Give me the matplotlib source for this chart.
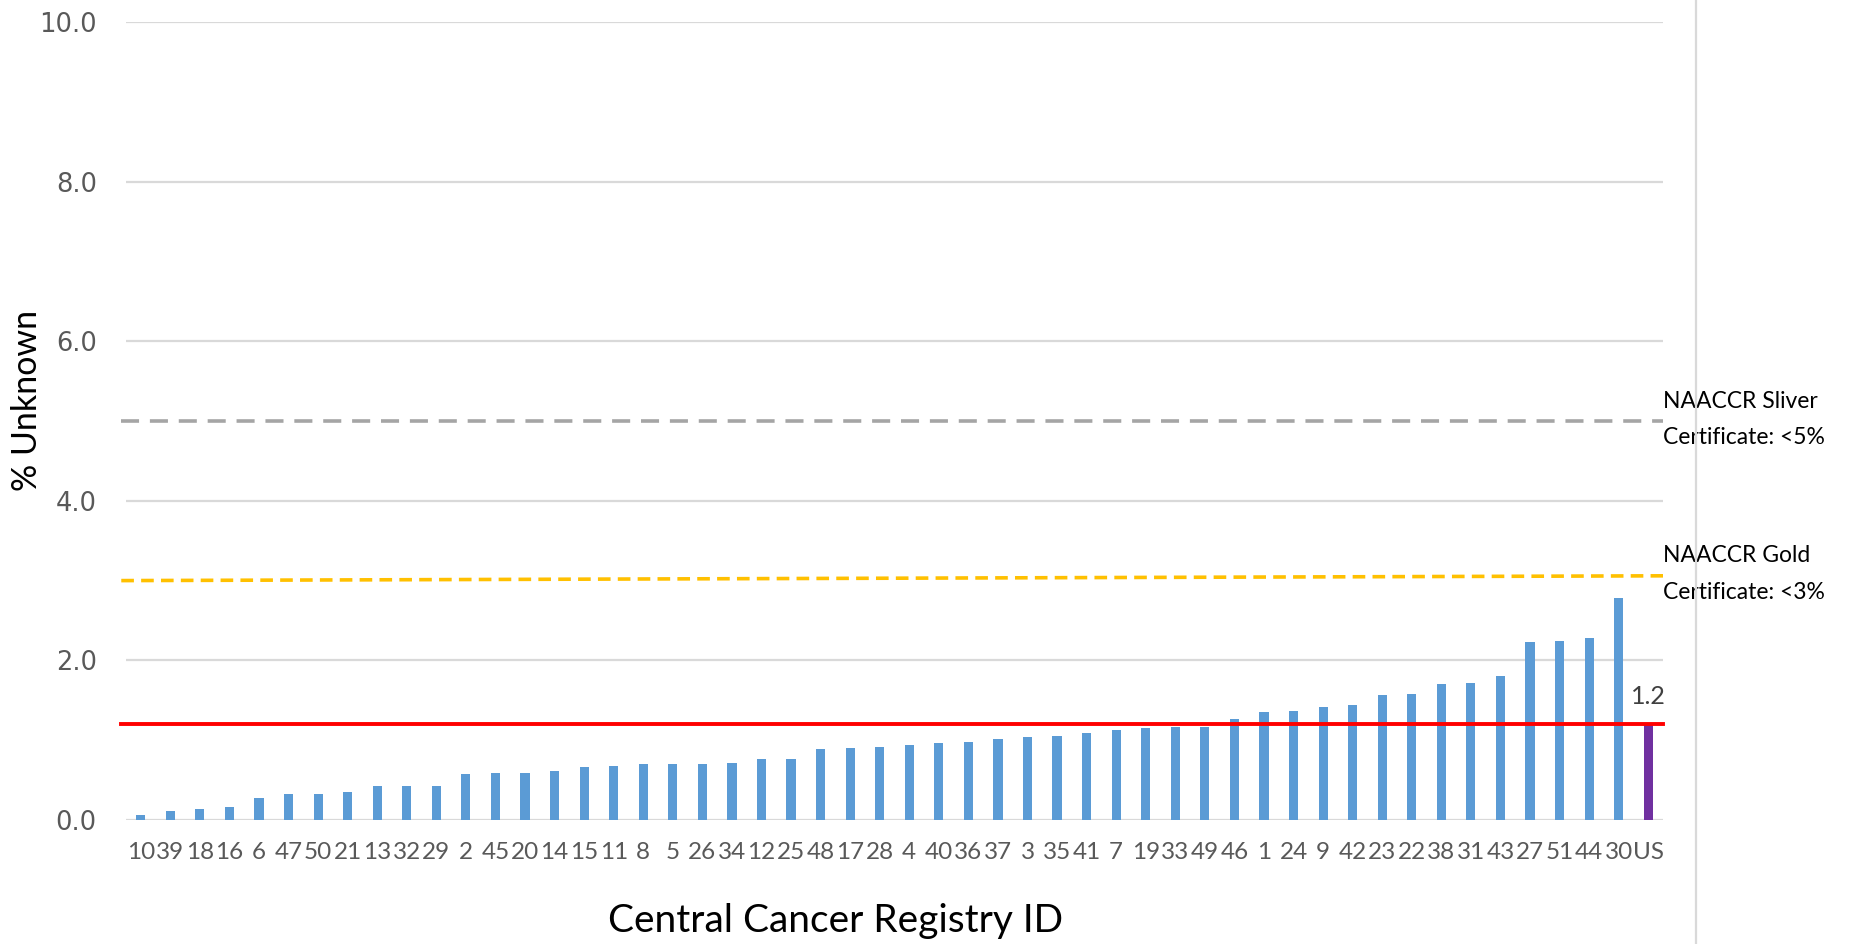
import matplotlib
matplotlib.use("Agg")
import matplotlib.pyplot as plt
from matplotlib.lines import Line2D

# ---- data ----
registry_ids = ["10", "39", "18", "16", "6", "47", "50", "21", "13", "32", "29", "2", "45",
                "20", "14", "15", "11", "8", "5", "26", "34", "12", "25", "48", "17", "28",
                "4", "40", "36", "37", "3", "35", "41", "7", "19", "33", "49", "46", "1",
                "24", "9", "42", "23", "22", "38", "31", "43", "27", "51", "44", "30", "US"]
pct_unknown = [0.06, 0.11, 0.14, 0.16, 0.27, 0.32, 0.33, 0.35, 0.42, 0.42, 0.43, 0.58, 0.59,
               0.59, 0.62, 0.67, 0.68, 0.70, 0.70, 0.70, 0.71, 0.76, 0.76, 0.89, 0.90, 0.91,
               0.94, 0.96, 0.98, 1.01, 1.04, 1.05, 1.09, 1.13, 1.15, 1.16, 1.16, 1.27, 1.35,
               1.37, 1.42, 1.44, 1.57, 1.58, 1.71, 1.72, 1.80, 2.23, 2.24, 2.28, 2.78, 1.2]
us_value = 1.2
gold_threshold = [3.0, 3.06]
silver_threshold = [5.0, 5.0]
y_ticks = [0, 2, 4, 6, 8, 10]

# ---- figure ----
fig = plt.figure(figsize=(18.52, 9.44), dpi=100)
ax = fig.add_axes([126/1852, 1-820/944, (1663-126)/1852, (820-22)/944])

x = list(range(len(registry_ids)))
colors = ["#5b9bd5"] * (len(registry_ids) - 1) + ["#7030a0"]
ax.bar(x, pct_unknown, width=0.31, color=colors, zorder=2)

ax.set_xlim(-0.5, len(registry_ids) - 0.5)
ax.set_ylim(0, 10)
ax.set_yticks(y_ticks)
ax.set_yticklabels([f"{v:.1f}" for v in y_ticks], fontsize=18.5, color="#595959",
                   family="DejaVu Sans")
ax.set_xticks(x)
ax.set_xticklabels(registry_ids, fontsize=17.5, color="#595959", family="Lato")
ax.tick_params(axis="both", length=0)
ax.tick_params(axis="x", pad=16)
ax.tick_params(axis="y", pad=21)
for s in ax.spines.values():
    s.set_visible(False)
ax.grid(axis="y", color="#d9d9d9", linewidth=1.6, zorder=0)

xl0, xl1 = -0.66, len(registry_ids) - 0.5
ax.plot([xl0, xl1], silver_threshold, color="#a5a5a5", linewidth=2.6,
        dashes=(5, 3), clip_on=False, zorder=3)
ax.plot([xl0, xl1], gold_threshold, color="#ffc000", linewidth=2.6,
        dashes=(3.5, 2), clip_on=False, zorder=3)
ax.plot([xl0, xl1], [us_value, us_value], color="#ff0000", linewidth=2.8,
        clip_on=False, zorder=4)

ax.text(len(registry_ids) - 1, us_value + 0.2, f"{us_value:.1f}", ha="center", va="bottom",
        fontsize=18, color="#404040", family="Lato")

# annotations
ax.text(xl1 + 0.0, silver_threshold[1] + 0.25, "NAACCR Sliver", ha="left", va="center",
        fontsize=16.5, color="black", family="Lato", clip_on=False)
ax.text(xl1 + 0.0, silver_threshold[1] - 0.21, "Certificate: <5%", ha="left", va="center",
        fontsize=16.5, color="black", family="Lato", clip_on=False)
ax.text(xl1 + 0.0, gold_threshold[1] + 0.25, "NAACCR Gold", ha="left", va="center",
        fontsize=16.5, color="black", family="Lato", clip_on=False)
ax.text(xl1 + 0.0, gold_threshold[1] - 0.21, "Certificate: <3%", ha="left", va="center",
        fontsize=16.5, color="black", family="Lato", clip_on=False)

# axis titles
fig.text(27/1852, 1-400/944, "% Unknown", rotation=90, ha="center", va="center",
         fontsize=24.5, color="black", family="Lato")
fig.text(836/1852, 1-921/944, "Central Cancer Registry ID", ha="center", va="center",
         fontsize=28, color="black", family="Lato")

# right border line
fig.add_artist(Line2D([1696/1852, 1696/1852], [0, 1], transform=fig.transFigure,
                      color="#d9d9d9", linewidth=1.6))

fig.savefig("out.png", dpi=100)
